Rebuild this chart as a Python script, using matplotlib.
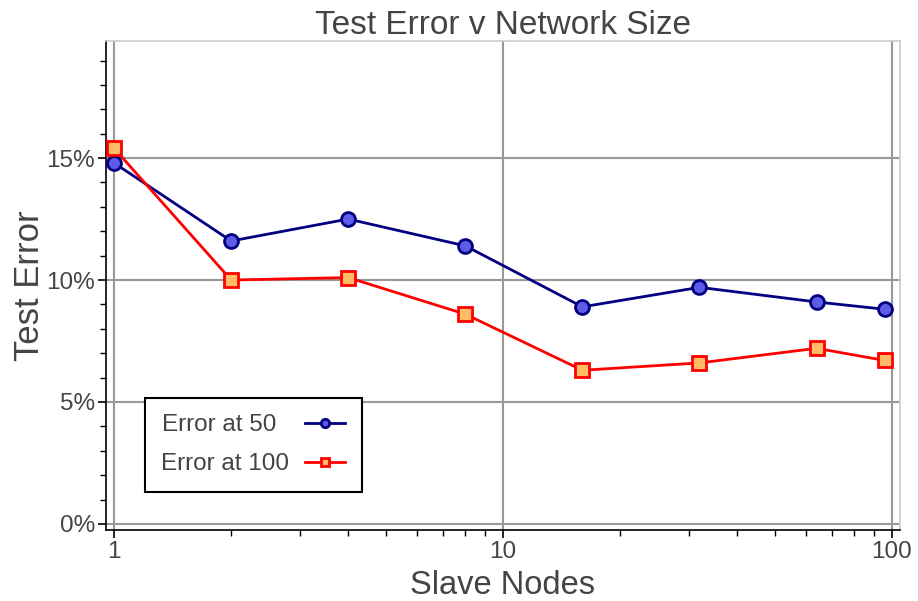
import numpy as np
import matplotlib
matplotlib.use('Agg')
import matplotlib.pyplot as plt
from matplotlib.ticker import FuncFormatter, MultipleLocator, LogLocator, NullFormatter

# data
nodes = [1, 2, 4, 8, 16, 32, 64, 96]
err_50 = [14.8, 11.6, 12.5, 11.4, 8.9, 9.7, 9.1, 8.8]
err_100 = [15.4, 10.0, 10.1, 8.6, 6.3, 6.6, 7.2, 6.7]
labels = ['Error at 50', 'Error at 100']

plt.rcParams['font.family'] = ['Liberation Sans', 'DejaVu Sans']
txt = '#444444'

fig = plt.figure(figsize=(9.18, 6.01), dpi=100)
ax = fig.add_axes([106 / 918, 71 / 601, 794 / 918, 489 / 601])

ax.plot(nodes, err_50, '-o', color='navy', lw=2, ms=10, mew=2,
        mfc='#5c5ce6', mec='navy', label=labels[0], zorder=3)
ax.plot(nodes, err_100, '-s', color='red', lw=2, ms=10, mew=2,
        mfc='#ffbb66', mec='red', label=labels[1], zorder=3)

ax.set_xscale('log')
ax.set_xlim(1 / 1.049, 100 * 1.049)
ax.set_ylim(-0.25, 19.8)

ax.yaxis.set_major_locator(MultipleLocator(5))
ax.yaxis.set_minor_locator(MultipleLocator(1))
ax.yaxis.set_major_formatter(FuncFormatter(lambda v, p: '%d%%' % round(v)))
ax.xaxis.set_major_locator(LogLocator(base=10, numticks=10))
ax.xaxis.set_minor_locator(LogLocator(base=10, subs=np.arange(2, 10), numticks=10))
ax.xaxis.set_major_formatter(FuncFormatter(lambda v, p: '%g' % v))
ax.xaxis.set_minor_formatter(NullFormatter())

ax.grid(True, which='major', color='#999999', lw=1.5)
ax.set_axisbelow(True)

for s in ['top', 'right']:
    ax.spines[s].set_color('#cccccc')
    ax.spines[s].set_linewidth(1.2)
for s in ['left', 'bottom']:
    ax.spines[s].set_color('black')
    ax.spines[s].set_linewidth(1.2)

ax.tick_params(which='major', direction='out', length=6, width=1.2, colors='black',
               labelcolor=txt, labelsize=17.5, pad=2)
ax.tick_params(which='minor', direction='out', length=4, width=1.0, colors='black')

ax.set_title('Test Error v Network Size', fontsize=24, color=txt, pad=5)
ax.set_xlabel('Slave Nodes', fontsize=23.5, color=txt, labelpad=5)
ax.set_ylabel('Test Error', fontsize=25, color=txt, labelpad=0)

# pad the shorter label so both texts start at the left edge
leg = ax.legend(loc='lower left', bbox_to_anchor=(0.049, 0.078), fontsize=17.5,
                labels=[labels[0] + '  ', labels[1]],
                markerfirst=False, frameon=True, fancybox=False, framealpha=1,
                edgecolor='black', handlelength=1.65, markerscale=0.6,
                borderpad=0.68, labelspacing=0.7, handletextpad=0.65,
                borderaxespad=0)
leg.get_frame().set_linewidth(1.5)
for t in leg.get_texts():
    t.set_color(txt)

fig.savefig('out.png', dpi=100)
